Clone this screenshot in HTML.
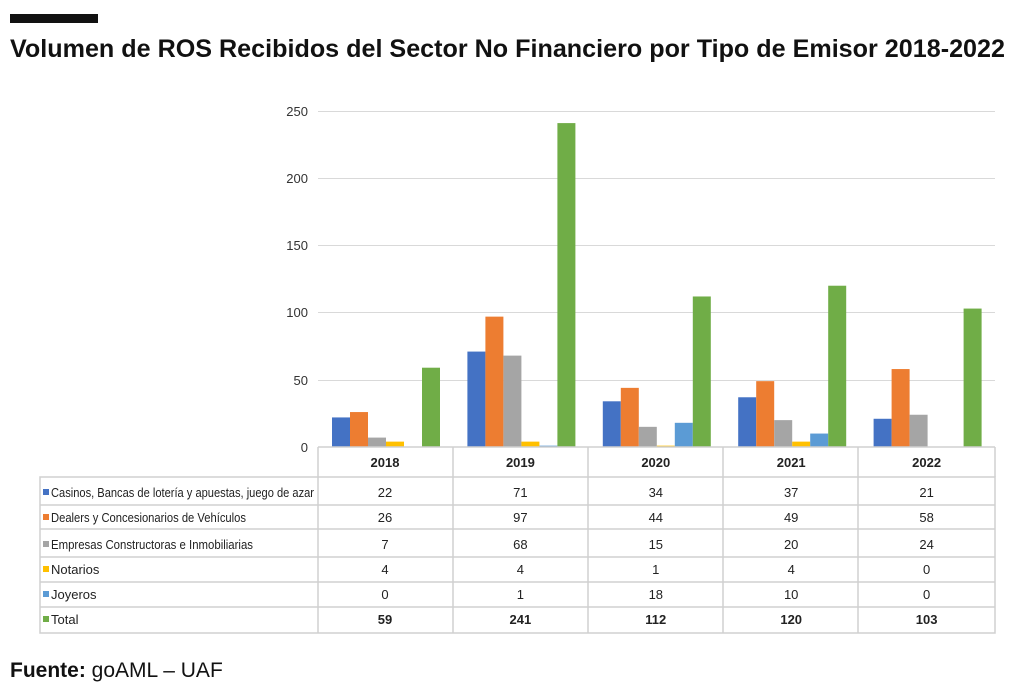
<!DOCTYPE html>
<html><head><meta charset="utf-8"><style>
body{margin:0;background:#fff;width:1024px;height:694px;overflow:hidden}
svg text{font-family:"Liberation Sans",sans-serif}
</style></head><body>
<svg width="1024" height="694" xmlns="http://www.w3.org/2000/svg">
<rect x="10" y="14" width="88" height="9" fill="#111"/>
<text x="10" y="57" font-size="25" font-weight="bold" fill="#111" textLength="995" lengthAdjust="spacingAndGlyphs">Volumen de ROS Recibidos del Sector No Financiero por Tipo de Emisor 2018-2022</text>
<g stroke="#d9d9d9" stroke-width="1">
<line x1="318" y1="111.5" x2="995" y2="111.5"/>
<line x1="318" y1="178.5" x2="995" y2="178.5"/>
<line x1="318" y1="245.5" x2="995" y2="245.5"/>
<line x1="318" y1="312.5" x2="995" y2="312.5"/>
<line x1="318" y1="380.5" x2="995" y2="380.5"/>
</g>
<g font-size="13" fill="#333" text-anchor="end">
<text x="308" y="116">250</text><text x="308" y="183">200</text><text x="308" y="250">150</text>
<text x="308" y="317">100</text><text x="308" y="385">50</text><text x="308" y="452">0</text>
</g>
<g id="bars"></g>
<g stroke="#d0d0d0" stroke-width="1.5" fill="none">
<rect x="40" y="477" width="955" height="156"/>
<line x1="318" y1="447" x2="995" y2="447"/>
<line x1="318" y1="447" x2="318" y2="633"/>
<line x1="453" y1="447" x2="453" y2="633"/>
<line x1="588" y1="447" x2="588" y2="633"/>
<line x1="723" y1="447" x2="723" y2="633"/>
<line x1="858" y1="447" x2="858" y2="633"/>
<line x1="995" y1="447" x2="995" y2="477"/>
<line x1="40" y1="505" x2="995" y2="505"/>
<line x1="40" y1="529" x2="995" y2="529"/>
<line x1="40" y1="557" x2="995" y2="557"/>
<line x1="40" y1="582" x2="995" y2="582"/>
<line x1="40" y1="607" x2="995" y2="607"/>
</g>
<g id="tbl" font-size="13" fill="#222"></g>
<text x="10" y="677" font-size="21" fill="#111"><tspan font-weight="bold">Fuente:</tspan> goAML – UAF</text>
<script>
var d=[[22,71,34,37,21],[26,97,44,49,58],[7,68,15,20,24],[4,4,1,4,0],[0,1,18,10,0],[59,241,112,120,103]];
var c=["#4472c4","#ed7d31","#a5a5a5","#ffc000","#5b9bd5","#70ad47"];
var names=["Casinos, Bancas de lotería y apuestas, juego de azar","Dealers y Concesionarios de Vehículos","Empresas Constructoras e Inmobiliarias","Notarios","Joyeros","Total"];
var lens=[263,195,202,0,0,0];
var ry=[497,522,549,574,599,624];
var ns="http://www.w3.org/2000/svg",b=document.getElementById("bars"),t=document.getElementById("tbl");
function el(p,n,a,tx){var e=document.createElementNS(ns,n);for(var k in a)e.setAttribute(k,a[k]);if(tx!=null)e.textContent=tx;p.appendChild(e);return e;}
var yrs=["2018","2019","2020","2021","2022"];
for(var g=0;g<5;g++){var x0=318+g*135.4;
 el(t,"text",{x:x0+67,y:467,"text-anchor":"middle","font-weight":"bold"},yrs[g]);
 for(var s=0;s<6;s++){var h=d[s][g]*1.344;
  if(h>0)el(b,"rect",{x:x0+14+s*18,y:447-h,width:18,height:h,fill:c[s]});
  el(t,"text",{x:x0+67,y:ry[s],"text-anchor":"middle","font-weight":s==5?"bold":"normal"},d[s][g]);}}
for(var s=0;s<6;s++){el(t,"rect",{x:43,y:ry[s]-8,width:6,height:6,fill:c[s]});
 var a={x:51,y:ry[s]};if(lens[s]){a.textLength=lens[s];a.lengthAdjust="spacingAndGlyphs";}
 el(t,"text",a,names[s]);}
</script>
</svg>
</body></html>
